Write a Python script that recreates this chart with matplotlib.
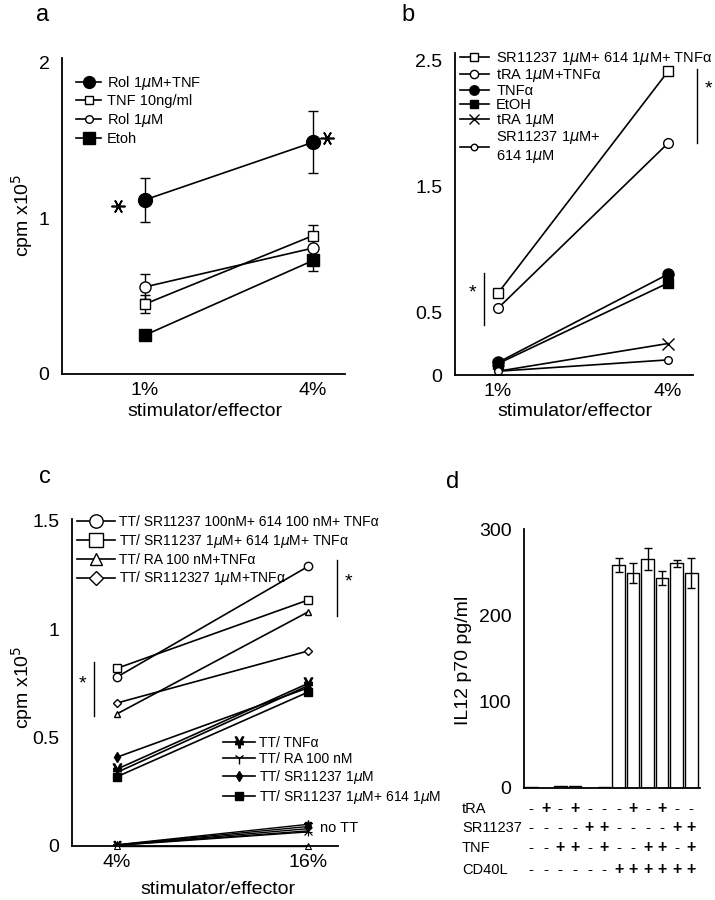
import numpy as np
import matplotlib
matplotlib.use("Agg")
import matplotlib.pyplot as plt
import matplotlib.transforms as mtransforms
from matplotlib.lines import Line2D

plt.rcParams['font.family'] = ['Liberation Sans', 'DejaVu Sans']
plt.rcParams['mathtext.fontset'] = 'dejavusans'

# ---------------- data ----------------
# panel a (x = 1%, 4%)
a_xlabels = ['1%', '4%']
a_rol_tnf = [1.12, 1.49]
a_rol_tnf_err = [0.14, 0.20]
a_tnf = [0.45, 0.89]
a_tnf_err = [0.06, 0.07]
a_rol = [0.56, 0.81]
a_rol_err = [0.08, 0.05]
a_etoh = [0.25, 0.73]
a_etoh_err = [0.03, 0.07]

# panel b
b_xlabels = ['1%', '4%']
b_sr_614_tnf = [0.65, 2.41]
b_tra_tnf = [0.53, 1.84]
b_tnf = [0.10, 0.80]
b_etoh = [0.09, 0.73]
b_tra = [0.03, 0.25]
b_sr_614 = [0.03, 0.12]

# panel c (x = 4%, 16%)
c_xlabels = ['4%', '16%']
c_sr100_614_tnf = [0.78, 1.29]
c_sr1_614_tnf = [0.82, 1.135]
c_ra_tnf = [0.61, 1.08]
c_sr327_tnf = [0.66, 0.90]
c_tt_tnf = [0.355, 0.75]
c_tt_ra = [0.34, 0.74]
c_tt_sr = [0.41, 0.73]
c_tt_sr_614 = [0.32, 0.71]
c_nott_1 = [0.006, 0.10]
c_nott_2 = [0.005, 0.09]
c_nott_3 = [0.004, 0.08]
c_nott_4 = [0.004, 0.07]
c_nott_5 = [0.003, 0.065]
c_nott_6 = [0.0, 0.0]

# panel d
d_values = [1, 0.5, 2, 2, 0.5, 1, 259, 250, 266, 244, 261, 250]
d_errors = [0, 0, 0, 0, 0, 0, 8, 12, 13, 8, 4, 17]
d_rows = ['tRA', 'SR11237', 'TNF', 'CD40L']
d_tra = '-+-+---+-+--'
d_sr = '----++----++'
d_tnf = '--++-+--++-+'
d_cd40l = '------++++++'

W, H = 715, 900
fig = plt.figure(figsize=(W / 100, H / 100), dpi=100)


def px_axes(left, top, right, bottom):
    return fig.add_axes([left / W, 1 - bottom / H, (right - left) / W, (bottom - top) / H])


def style(ax, fs=14):
    for s in ['top', 'right']:
        ax.spines[s].set_visible(False)
    for s in ['left', 'bottom']:
        ax.spines[s].set_linewidth(1.3)
    ax.tick_params(length=0, labelsize=fs, pad=9)
    ax.tick_params(axis='x', pad=6)


lw = 1.2
mk = dict(color='black', lw=lw, markeredgecolor='black', markeredgewidth=1.0)

# ---------------- panel a ----------------
ax = px_axes(62, 58, 345, 374)
style(ax)
x = [0, 1]
ax.errorbar(x, a_rol_tnf, yerr=a_rol_tnf_err, marker='o', ms=10, mfc='black',
            capsize=3.5, ecolor='black', elinewidth=1, **mk)
ax.errorbar(x, a_tnf, yerr=a_tnf_err, marker='s', ms=7.5, mfc='white',
            capsize=3.5, ecolor='black', elinewidth=1, **mk)
ax.errorbar(x, a_rol, yerr=a_rol_err, marker='o', ms=8, mfc='white',
            capsize=3.5, ecolor='black', elinewidth=1, **mk)
ax.errorbar(x, a_etoh, yerr=a_etoh_err, marker='s', ms=9, mfc='black',
            capsize=3.5, ecolor='black', elinewidth=1, **mk)
ax.plot([-0.16, 1.08], [1.08, 1.52], ls='none', marker=(6, 2, 90), ms=10,
        color='black', mew=1.2)
ax.set_xlim(-0.494, 1.19)
ax.set_ylim(0, 2.032)
ax.set_xticks(x)
ax.set_xticklabels(a_xlabels)
ax.set_yticks([0, 1, 2])
ax.set_yticklabels(['0', '1', '2'])
a_handles = [
    Line2D([], [], marker='o', ms=8.5, mfc='black', **mk),
    Line2D([], [], marker='s', ms=5.5, mfc='white', **mk),
    Line2D([], [], marker='o', ms=5.5, mfc='white', **mk),
    Line2D([], [], marker='s', ms=8, mfc='black', **mk),
]
a_labels = ['Rol 1$\\mu$M+TNF', 'TNF 10ng/ml', 'Rol 1$\\mu$M', 'Etoh']
ax.legend(a_handles, a_labels, loc='upper left', bbox_to_anchor=(0.05, 0.95), frameon=False,
          fontsize=10.5, handlelength=1.7, handletextpad=0.4, labelspacing=0.18,
          borderpad=0, borderaxespad=0)

# ---------------- panel b ----------------
ax = px_axes(455, 53, 693, 375)
style(ax)
ax.plot(x, b_sr_614_tnf, marker='s', ms=7, mfc='white', label='SR11237 1$\\mu$M+ 614 1$\\mu$M+ TNF\u03b1', **mk)
ax.plot(x, b_tra_tnf, marker='o', ms=7, mfc='white', label='tRA 1$\\mu$M+TNF\u03b1', **mk)
ax.plot(x, b_tnf, marker='o', ms=8, mfc='black', label='TNF\u03b1', **mk)
ax.plot(x, b_etoh, marker='s', ms=7, mfc='black', label='EtOH', **mk)
ax.plot(x, b_tra, marker='x', ms=8, mfc='black', label='tRA 1$\\mu$M', **mk)
ax.plot(x, b_sr_614, marker='o', ms=5.5, mfc='white', label='SR11237 1$\\mu$M+\n614 1$\\mu$M', **mk)
ax.plot([-0.08, -0.08], [0.4, 0.81], color='black', lw=1)
ax.text(-0.15, 0.65, '*', fontsize=14, ha='center', va='center')
ax.plot([1.17, 1.17], [1.84, 2.43], color='black', lw=1, clip_on=False)
ax.text(1.24, 2.27, '*', fontsize=14, ha='center', va='center')
ax.set_xlim(-0.253, 1.147)
ax.set_ylim(0, 2.556)
ax.set_xticks(x)
ax.set_xticklabels(b_xlabels)
ax.set_yticks([0, 0.5, 1.5, 2.5])
ax.set_yticklabels(['0', '0.5', '1.5', '2.5'])
ax.legend(loc='upper left', bbox_to_anchor=(0.02, 1.01), frameon=False,
          fontsize=10.5, handlelength=2.0, handletextpad=0.5, labelspacing=0.0,
          borderpad=0, borderaxespad=0, markerscale=0.85)

# ---------------- panel c ----------------
ax = px_axes(72, 519, 338, 846)
style(ax)
l1 = ax.plot(x, c_sr100_614_tnf, marker='o', ms=6, mfc='white', label='TT/ SR11237 100nM+ 614 100 nM+ TNF\u03b1', **mk)
l2 = ax.plot(x, c_sr1_614_tnf, marker='s', ms=6, mfc='white', label='TT/ SR11237 1$\\mu$M+ 614 1$\\mu$M+ TNF\u03b1', **mk)
l3 = ax.plot(x, c_ra_tnf, marker='^', ms=5, mfc='white', label='TT/ RA 100 nM+TNF\u03b1', **mk)
l4 = ax.plot(x, c_sr327_tnf, marker='D', ms=4.5, mfc='white', label='TT/ SR112327 1$\\mu$M+TNF\u03b1', **mk)
l5 = ax.plot(x, c_tt_tnf, marker='$\u00a5$', ms=8, label='TT/ TNF\u03b1', color='black', lw=lw)
l6 = ax.plot(x, c_tt_ra, marker='1', ms=8, label='TT/ RA 100 nM', **mk)
l7 = ax.plot(x, c_tt_sr, marker='d', ms=5, mfc='black', label='TT/ SR11237 1$\\mu$M', **mk)
l8 = ax.plot(x, c_tt_sr_614, marker='s', ms=6, mfc='black', label='TT/ SR11237 1$\\mu$M+ 614 1$\\mu$M', **mk)
for ys, m in [(c_nott_1, '*'), (c_nott_2, '$\u00a5$'), (c_nott_3, '1'),
              (c_nott_4, 'x'), (c_nott_5, '+')]:
    ax.plot(x, ys, marker=m, ms=6, color='black', lw=1.0, mew=0.8)
ax.plot(x, c_nott_6, marker='^', ms=4, mfc='white', color='black', lw=1.0, mew=0.8, clip_on=False)
ax.text(1.063, 0.083, 'no TT', fontsize=10.5, ha='left', va='center')
ax.plot([-0.12, -0.12], [0.60, 0.85], color='black', lw=1)
ax.text(-0.18, 0.75, '*', fontsize=14, ha='center', va='center')
ax.plot([1.15, 1.15], [1.06, 1.32], color='black', lw=1, clip_on=False)
ax.text(1.21, 1.22, '*', fontsize=14, ha='center', va='center')
ax.set_xlim(-0.236, 1.157)
ax.set_ylim(0, 1.509)
ax.set_xticks(x)
ax.set_xticklabels(c_xlabels)
ax.set_yticks([0, 0.5, 1, 1.5])
ax.set_yticklabels(['0', '0.5', '1', '1.5'])
leg1 = ax.legend(handles=l1 + l2 + l3 + l4, loc='upper left', bbox_to_anchor=(0.019, 1.012),
                 frameon=False, fontsize=10, handlelength=2.7, handletextpad=0.3,
                 labelspacing=0.2, borderpad=0, borderaxespad=0, markerscale=1.6)
ax.add_artist(leg1)
ax.legend(handles=l5 + l6 + l7 + l8, loc='upper left', bbox_to_anchor=(0.568, 0.337),
          frameon=False, fontsize=10, handlelength=2.3, handletextpad=0.3,
          labelspacing=0.15, borderpad=0, borderaxespad=0, markerscale=1.0)

# ---------------- panel d ----------------
ax = px_axes(524, 529, 700, 788)
style(ax)
pos = np.arange(len(d_values))
ax.bar(pos, d_values, width=0.86, color='white', edgecolor='black', linewidth=1)
err_idx = [i for i in pos if d_errors[i] > 0]
ax.errorbar([pos[i] for i in err_idx], [d_values[i] for i in err_idx],
            yerr=[d_errors[i] for i in err_idx], fmt='none', ecolor='black',
            elinewidth=1, capsize=3)
ax.set_xlim(-0.5, 11.6)
ax.set_ylim(0, 301)
ax.set_xticks([])
ax.set_yticks([0, 100, 200, 300])
ax.set_yticklabels(['0', '100', '200', '300'])
trans = mtransforms.blended_transform_factory(ax.transData, ax.transAxes)
row_y = [-0.08, -0.154, -0.231, -0.316]
for name, signs, yy in zip(d_rows, [d_tra, d_sr, d_tnf, d_cd40l], row_y):
    ax.text(-0.352, yy, name, transform=ax.transAxes, fontsize=10.5, ha='left', va='center')
    for i, s in enumerate(signs):
        ax.text(i, yy, s, transform=trans, fontsize=11.5 if s == '+' else 11,
                fontweight='bold' if s == '+' else 'normal', ha='center', va='center')

# ---------------- labels ----------------
fig.text(43 / W, 1 - 15 / H, 'a', fontsize=17, ha='center', va='center')
fig.text(408 / W, 1 - 15 / H, 'b', fontsize=17, ha='center', va='center')
fig.text(45 / W, 1 - 477 / H, 'c', fontsize=17, ha='center', va='center')
fig.text(453 / W, 1 - 482 / H, 'd', fontsize=17, ha='center', va='center')
fig.text(22 / W, 1 - 215 / H, 'cpm x10$^5$', fontsize=14, rotation=90, ha='center', va='center')
fig.text(22 / W, 1 - 687 / H, 'cpm x10$^5$', fontsize=14, rotation=90, ha='center', va='center')
fig.text(463 / W, 1 - 660 / H, 'IL12 p70 pg/ml', fontsize=14, rotation=90, ha='center', va='center')
fig.text(205 / W, 1 - 411 / H, 'stimulator/effector', fontsize=14, ha='center', va='center')
fig.text(575 / W, 1 - 411 / H, 'stimulator/effector', fontsize=14, ha='center', va='center')
fig.text(218 / W, 1 - 890 / H, 'stimulator/effector', fontsize=14, ha='center', va='center')

fig.savefig('out.png', dpi=100)
